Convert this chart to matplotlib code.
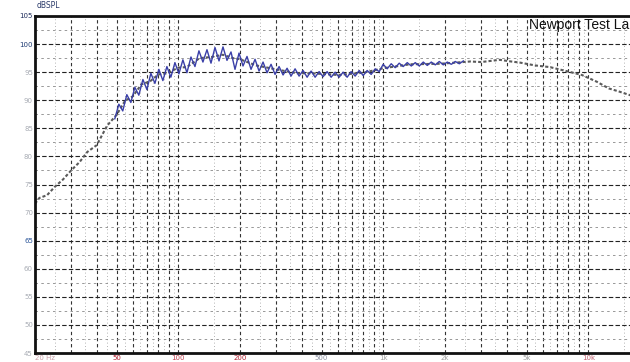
import matplotlib.pyplot as plt

# Trazo gris de referencia (toda la banda)
frec_gris = [20, 21, 22.9, 25, 27.4, 30, 33, 36, 40, 45, 50, 55, 60, 66, 73, 80, 88,
             100, 110, 127, 145, 165, 185, 200, 240, 300, 380, 450, 600, 800, 1000,
             1350, 1900, 2660, 3000, 3700, 4200, 4650, 5500, 6500, 7800, 9300,
             11000, 12600, 14000, 16000, 18000, 20000]
spl_gris = [71.6, 72.6, 73.1, 74.6, 75.9, 77.5, 79.0, 80.8, 82.0, 85.5, 87.4, 89.9,
            90.7, 92.8, 93.4, 94.6, 94.8, 95.8, 95.9, 97.5, 97.7, 98.1, 97.5, 97.3,
            96.2, 95.5, 94.8, 94.8, 94.5, 94.9, 95.7, 96.4, 96.5, 96.9, 96.8, 97.2,
            96.9, 96.7, 96.2, 95.9, 95.2, 94.5, 93.3, 92.1, 91.6, 90.9, 90.3, 89.8]

# Trazo azul con rizado (50 Hz - 2.5 kHz)
frec_azul = [49, 51.3, 53.6, 56.1, 58.7, 61.4, 64.2, 67.2, 70.3, 73.5, 76.9, 80.4,
             84.1, 88.0, 92.0, 96.3, 100.7, 105.3, 110.2, 115.3, 120.6, 126.1, 131.9,
             138, 144.4, 151, 158, 165.2, 172.8, 180.8, 189.1, 197.8, 206.9, 216.4,
             226.4, 236.8, 247.7, 259.1, 271, 283.5, 296.5, 310.2, 324.4, 339.4, 355,
             371.3, 388.4, 406.3, 425, 444.5, 465, 486.4, 508.8, 532.2, 556.7, 582.3,
             609.1, 637.1, 666.4, 697.1, 729.2, 762.7, 797.8, 834.5, 872.9, 913.1,
             955.1, 999, 1045, 1093, 1143, 1196, 1251, 1309, 1369, 1432, 1498, 1567,
             1639, 1714, 1793, 1876, 1962, 2052, 2147, 2246, 2349, 2457]
spl_azul = [86.7, 89.3, 88.1, 91.0, 89.6, 92.3, 90.9, 93.7, 91.9, 94.8, 93.0, 95.5,
            93.5, 96.0, 94.1, 96.7, 94.7, 97.2, 94.9, 97.7, 96.0, 98.8, 96.8, 99.0,
            96.6, 99.4, 97.0, 99.5, 97.1, 98.6, 95.5, 98.4, 96.1, 97.8, 95.5, 97.3,
            95.2, 96.8, 94.9, 96.4, 94.6, 96.0, 94.5, 95.7, 94.3, 95.6, 94.3, 95.3,
            94.1, 95.2, 94.1, 95.1, 94.2, 95.1, 94.1, 95.0, 94.1, 95.0, 94.1, 95.1,
            94.3, 95.3, 94.4, 95.3, 94.6, 95.6, 95.1, 96.4, 95.6, 96.5, 95.8, 96.6,
            96.0, 96.7, 96.1, 96.7, 96.1, 96.8, 96.2, 96.8, 96.3, 96.9, 96.3, 96.8,
            96.4, 96.9, 96.5, 97.0]

# Etiquetas de los ejes
ticks_x = [20, 50, 100, 200, 500, 1000, 2000, 5000, 10000]
etiquetas_x = ['20 Hz', '50', '100', '200', '500', '1k', '2k', '5k', '10k']
colores_x = ['#c9a0a8', '#b02030', '#c04050', '#b02030', '#8a8fa0',
             '#a0a0a0', '#a0a0a0', '#a0a0a0', '#c06070']
ticks_y = [45, 50, 55, 60, 65, 70, 75, 80, 85, 90, 95, 100, 105]
etiquetas_y = [str(v) for v in ticks_y]

fig = plt.figure(figsize=(6.3, 3.62), dpi=100)
ax = fig.add_axes([35 / 630, 9 / 362, 615 / 630, 337 / 362])
ax.set_xscale('log')
ax.set_xlim(20, 20000)
ax.set_ylim(45, 105)

# Rejilla: múltiplos enteros oscuros, medios múltiplos más claros
for dec in [10, 100, 1000, 10000]:
    for m in range(1, 10):
        f = m * dec
        if 20 < f < 20000:
            ax.axvline(f, color='#333333', lw=0.8, ls=(0, (3, 2.5)), zorder=1)
        fm = (m + 0.5) * dec
        if 20 < fm < 20000:
            ax.axvline(fm, color='#999999', lw=0.6, ls=(0, (1, 3)), zorder=1)
for v in ticks_y[1:-1]:
    ax.axhline(v, color='#222222', lw=0.8, ls=(0, (4, 2)), zorder=1)
for v in ticks_y[:-1]:
    ax.axhline(v + 2.5, color='#888888', lw=0.6, ls=(0, (3, 4)), zorder=1)

ax.plot(frec_gris, spl_gris, color='#5a5a5a', lw=1.5, ls=(0, (1.5, 1)), zorder=2)
ax.plot(frec_azul, spl_azul, color='#3a3fa8', lw=1.0, zorder=3)

ax.set_xticks(ticks_x)
ax.set_xticklabels(etiquetas_x)
ax.xaxis.set_minor_locator(plt.NullLocator())
for lbl, c in zip(ax.get_xticklabels(), colores_x):
    lbl.set_color(c)
ax.get_xticklabels()[0].set_horizontalalignment('left')
ax.set_yticks(ticks_y)
ax.set_yticklabels(etiquetas_y)
colores_y = ['#a8acb4'] * len(ticks_y)
colores_y[-1] = '#1f2d5c'
colores_y[-2] = '#1f3b73'
colores_y[4] = '#2a5599'
for lbl, c in zip(ax.get_yticklabels(), colores_y):
    lbl.set_color(c)
ax.tick_params(axis='both', length=0, labelsize=5, pad=1.5)

for lado in ['left', 'top', 'bottom']:
    ax.spines[lado].set_linewidth(2.0)
    ax.spines[lado].set_color('#111111')

fig.text(37 / 630, 1 - 6 / 362, 'dBSPL', fontsize=5.5, color='#2a3a6a', va='center')
fig.text(629 / 630, 1 - 25 / 362, 'Newport Test La', fontsize=10,
         family='Liberation Sans', color='#111111', va='center', ha='right')

plt.savefig('out.png', dpi=100)
